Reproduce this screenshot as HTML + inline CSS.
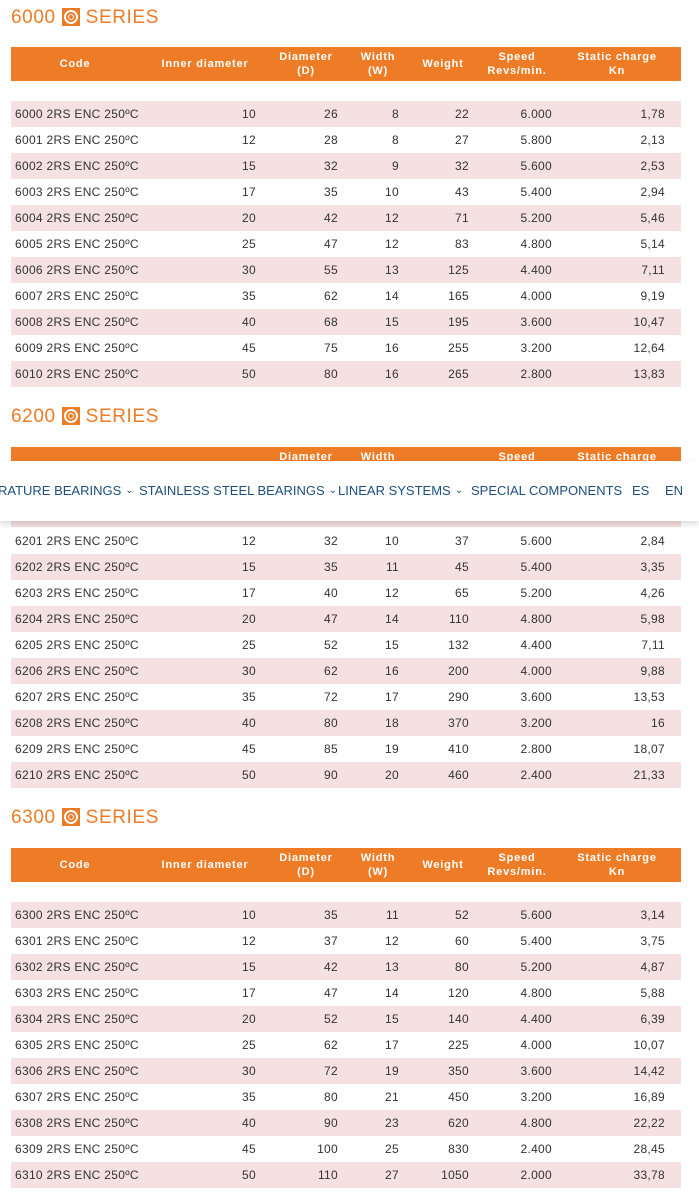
<!DOCTYPE html>
<html><head><meta charset="utf-8"><style>
*{margin:0;padding:0;box-sizing:border-box}
body{width:699px;height:1202px;background:#fff;position:relative;overflow:hidden;font-family:"Liberation Sans",sans-serif;color:#333}
.t{position:absolute;left:11px;font-size:19px;letter-spacing:0.6px;color:#EE7B26;height:22px;line-height:22px;white-space:nowrap}
.ic{display:inline-block;width:18px;height:18px;background:#EE7B26;vertical-align:-3px;margin:0 6px 0 6px;position:relative}
.ic:before{content:"";position:absolute;left:2px;top:2px;width:10px;height:10px;border:2px solid #fff;border-radius:50%}
.ic:after{content:"";position:absolute;left:6px;top:6px;width:6px;height:6px;border:1.5px solid #fff;border-radius:50%;box-sizing:border-box}
.h{position:absolute;left:11px;width:670px;height:34px;background:#EE7B26;color:#fff;font-size:11px;font-weight:bold;letter-spacing:0.8px}
.h span{position:absolute;text-align:center;line-height:14px;transform:translateX(-50%);white-space:nowrap}
.r{position:absolute;left:11px;width:670px;height:26px;font-size:12px;line-height:26px;letter-spacing:0.3px}
.p{background:#F5E1E1}
.r span{position:absolute;white-space:nowrap}
.a{left:4px}.b{right:425px}.c{right:343px}.d{right:282px}.e{right:212px}.f{right:129px}.g{right:16px}
.nav{position:absolute;left:0;top:461px;width:699px;height:60px;background:#fff;box-shadow:0 3px 6px rgba(0,0,0,0.15);font-size:13px;color:#1d4e7d;line-height:60px;white-space:nowrap}
.nav span{position:absolute}
.nav i{font-style:normal;font-size:10px;margin-left:4px;position:relative;top:-2px}
</style></head><body>

<div class="t" style="top:7px">6000<span class="ic"></span>SERIES</div>
<div class="h" style="top:47px">
<span style="left:64px;top:10px">Code</span><span style="left:194px;top:10px">Inner diameter</span><span style="left:295px;top:3px">Diameter<br>(D)</span><span style="left:367px;top:3px">Width<br>(W)</span><span style="left:432px;top:10px">Weight</span><span style="left:506px;top:3px">Speed<br>Revs/min.</span><span style="left:606px;top:3px">Static charge<br>Kn</span></div>
<div class="r p" style="top:101px"><span class="a">6000 2RS ENC 250ºC</span><span class="b">10</span><span class="c">26</span><span class="d">8</span><span class="e">22</span><span class="f">6.000</span><span class="g">1,78</span></div>
<div class="r" style="top:127px"><span class="a">6001 2RS ENC 250ºC</span><span class="b">12</span><span class="c">28</span><span class="d">8</span><span class="e">27</span><span class="f">5.800</span><span class="g">2,13</span></div>
<div class="r p" style="top:153px"><span class="a">6002 2RS ENC 250ºC</span><span class="b">15</span><span class="c">32</span><span class="d">9</span><span class="e">32</span><span class="f">5.600</span><span class="g">2,53</span></div>
<div class="r" style="top:179px"><span class="a">6003 2RS ENC 250ºC</span><span class="b">17</span><span class="c">35</span><span class="d">10</span><span class="e">43</span><span class="f">5.400</span><span class="g">2,94</span></div>
<div class="r p" style="top:205px"><span class="a">6004 2RS ENC 250ºC</span><span class="b">20</span><span class="c">42</span><span class="d">12</span><span class="e">71</span><span class="f">5.200</span><span class="g">5,46</span></div>
<div class="r" style="top:231px"><span class="a">6005 2RS ENC 250ºC</span><span class="b">25</span><span class="c">47</span><span class="d">12</span><span class="e">83</span><span class="f">4.800</span><span class="g">5,14</span></div>
<div class="r p" style="top:257px"><span class="a">6006 2RS ENC 250ºC</span><span class="b">30</span><span class="c">55</span><span class="d">13</span><span class="e">125</span><span class="f">4.400</span><span class="g">7,11</span></div>
<div class="r" style="top:283px"><span class="a">6007 2RS ENC 250ºC</span><span class="b">35</span><span class="c">62</span><span class="d">14</span><span class="e">165</span><span class="f">4.000</span><span class="g">9,19</span></div>
<div class="r p" style="top:309px"><span class="a">6008 2RS ENC 250ºC</span><span class="b">40</span><span class="c">68</span><span class="d">15</span><span class="e">195</span><span class="f">3.600</span><span class="g">10,47</span></div>
<div class="r" style="top:335px"><span class="a">6009 2RS ENC 250ºC</span><span class="b">45</span><span class="c">75</span><span class="d">16</span><span class="e">255</span><span class="f">3.200</span><span class="g">12,64</span></div>
<div class="r p" style="top:361px"><span class="a">6010 2RS ENC 250ºC</span><span class="b">50</span><span class="c">80</span><span class="d">16</span><span class="e">265</span><span class="f">2.800</span><span class="g">13,83</span></div>

<div class="t" style="top:406px">6200<span class="ic"></span>SERIES</div>
<div class="h" style="top:447px">
<span style="left:295px;top:3px">Diameter<br>(D)</span><span style="left:367px;top:3px">Width<br>(W)</span><span style="left:506px;top:3px">Speed<br>Revs/min.</span><span style="left:606px;top:3px">Static charge<br>Kn</span></div>
<div class="r p" style="top:501px"><span class="a">6200 2RS ENC 250ºC</span></div>
<div class="r" style="top:528px"><span class="a">6201 2RS ENC 250ºC</span><span class="b">12</span><span class="c">32</span><span class="d">10</span><span class="e">37</span><span class="f">5.600</span><span class="g">2,84</span></div>
<div class="r p" style="top:554px"><span class="a">6202 2RS ENC 250ºC</span><span class="b">15</span><span class="c">35</span><span class="d">11</span><span class="e">45</span><span class="f">5.400</span><span class="g">3,35</span></div>
<div class="r" style="top:580px"><span class="a">6203 2RS ENC 250ºC</span><span class="b">17</span><span class="c">40</span><span class="d">12</span><span class="e">65</span><span class="f">5.200</span><span class="g">4,26</span></div>
<div class="r p" style="top:606px"><span class="a">6204 2RS ENC 250ºC</span><span class="b">20</span><span class="c">47</span><span class="d">14</span><span class="e">110</span><span class="f">4.800</span><span class="g">5,98</span></div>
<div class="r" style="top:632px"><span class="a">6205 2RS ENC 250ºC</span><span class="b">25</span><span class="c">52</span><span class="d">15</span><span class="e">132</span><span class="f">4.400</span><span class="g">7,11</span></div>
<div class="r p" style="top:658px"><span class="a">6206 2RS ENC 250ºC</span><span class="b">30</span><span class="c">62</span><span class="d">16</span><span class="e">200</span><span class="f">4.000</span><span class="g">9,88</span></div>
<div class="r" style="top:684px"><span class="a">6207 2RS ENC 250ºC</span><span class="b">35</span><span class="c">72</span><span class="d">17</span><span class="e">290</span><span class="f">3.600</span><span class="g">13,53</span></div>
<div class="r p" style="top:710px"><span class="a">6208 2RS ENC 250ºC</span><span class="b">40</span><span class="c">80</span><span class="d">18</span><span class="e">370</span><span class="f">3.200</span><span class="g">16</span></div>
<div class="r" style="top:736px"><span class="a">6209 2RS ENC 250ºC</span><span class="b">45</span><span class="c">85</span><span class="d">19</span><span class="e">410</span><span class="f">2.800</span><span class="g">18,07</span></div>
<div class="r p" style="top:762px"><span class="a">6210 2RS ENC 250ºC</span><span class="b">50</span><span class="c">90</span><span class="d">20</span><span class="e">460</span><span class="f">2.400</span><span class="g">21,33</span></div>

<div class="nav"><span style="left:-2px">RATURE BEARINGS<i>⌄</i></span><span style="left:139px">STAINLESS STEEL BEARINGS<i>⌄</i></span><span style="left:338px">LINEAR SYSTEMS<i>⌄</i></span><span style="left:471px">SPECIAL COMPONENTS</span><span style="left:632px">ES</span><span style="left:665px">EN</span></div>

<div class="t" style="top:807px">6300<span class="ic"></span>SERIES</div>
<div class="h" style="top:848px">
<span style="left:64px;top:10px">Code</span><span style="left:194px;top:10px">Inner diameter</span><span style="left:295px;top:3px">Diameter<br>(D)</span><span style="left:367px;top:3px">Width<br>(W)</span><span style="left:432px;top:10px">Weight</span><span style="left:506px;top:3px">Speed<br>Revs/min.</span><span style="left:606px;top:3px">Static charge<br>Kn</span></div>
<div class="r p" style="top:902px"><span class="a">6300 2RS ENC 250ºC</span><span class="b">10</span><span class="c">35</span><span class="d">11</span><span class="e">52</span><span class="f">5.600</span><span class="g">3,14</span></div>
<div class="r" style="top:928px"><span class="a">6301 2RS ENC 250ºC</span><span class="b">12</span><span class="c">37</span><span class="d">12</span><span class="e">60</span><span class="f">5.400</span><span class="g">3,75</span></div>
<div class="r p" style="top:954px"><span class="a">6302 2RS ENC 250ºC</span><span class="b">15</span><span class="c">42</span><span class="d">13</span><span class="e">80</span><span class="f">5.200</span><span class="g">4,87</span></div>
<div class="r" style="top:980px"><span class="a">6303 2RS ENC 250ºC</span><span class="b">17</span><span class="c">47</span><span class="d">14</span><span class="e">120</span><span class="f">4.800</span><span class="g">5,88</span></div>
<div class="r p" style="top:1006px"><span class="a">6304 2RS ENC 250ºC</span><span class="b">20</span><span class="c">52</span><span class="d">15</span><span class="e">140</span><span class="f">4.400</span><span class="g">6,39</span></div>
<div class="r" style="top:1032px"><span class="a">6305 2RS ENC 250ºC</span><span class="b">25</span><span class="c">62</span><span class="d">17</span><span class="e">225</span><span class="f">4.000</span><span class="g">10,07</span></div>
<div class="r p" style="top:1058px"><span class="a">6306 2RS ENC 250ºC</span><span class="b">30</span><span class="c">72</span><span class="d">19</span><span class="e">350</span><span class="f">3.600</span><span class="g">14,42</span></div>
<div class="r" style="top:1084px"><span class="a">6307 2RS ENC 250ºC</span><span class="b">35</span><span class="c">80</span><span class="d">21</span><span class="e">450</span><span class="f">3.200</span><span class="g">16,89</span></div>
<div class="r p" style="top:1110px"><span class="a">6308 2RS ENC 250ºC</span><span class="b">40</span><span class="c">90</span><span class="d">23</span><span class="e">620</span><span class="f">4.800</span><span class="g">22,22</span></div>
<div class="r" style="top:1136px"><span class="a">6309 2RS ENC 250ºC</span><span class="b">45</span><span class="c">100</span><span class="d">25</span><span class="e">830</span><span class="f">2.400</span><span class="g">28,45</span></div>
<div class="r p" style="top:1162px"><span class="a">6310 2RS ENC 250ºC</span><span class="b">50</span><span class="c">110</span><span class="d">27</span><span class="e">1050</span><span class="f">2.000</span><span class="g">33,78</span></div>

</body></html>
